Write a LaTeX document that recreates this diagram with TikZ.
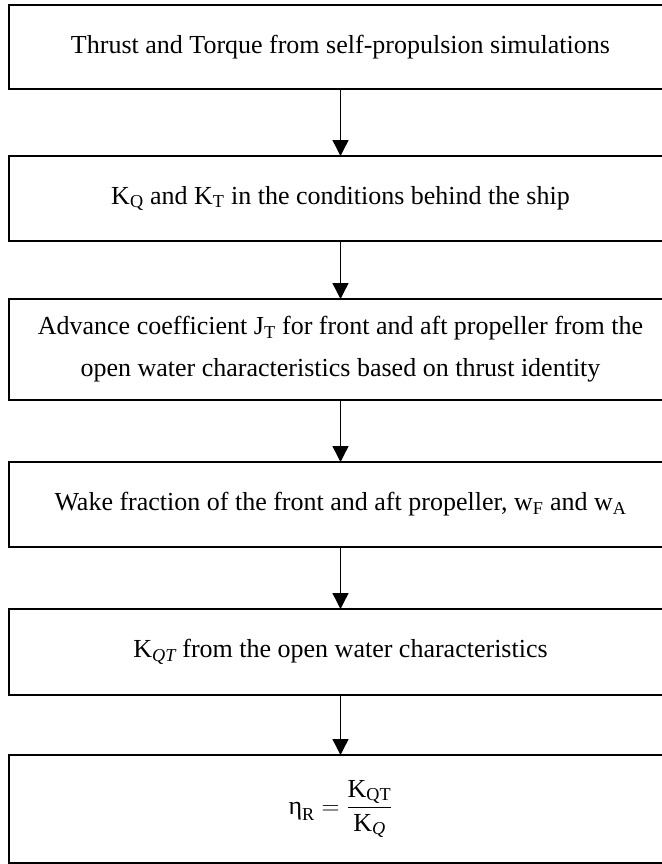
\documentclass[tikz,border=0pt]{standalone}
\usepackage{amsmath}
\usepackage{fontspec}
\setmainfont{Liberation Serif}
\usetikzlibrary{arrows.meta,positioning}

\begin{document}
\begin{tikzpicture}[
node distance=60pt,
every node/.style={font=\fontsize{26}{42}\selectfont},
box/.style={draw, line width=2.4pt, align=center, inner sep=4pt, outer sep=0pt, minimum width=663pt, minimum height=85pt},
arr/.style={-{Triangle[length=16pt,width=16pt]}, line width=1.4pt}
]
\useasboundingbox (0,0) rectangle (661pt,-864pt);
% steps of the flow chart
\node[box, minimum height=84pt] (S1) at (340.5pt,-47pt) {Thrust and Torque from self-propulsion simulations};
\node[box, below=67pt of S1] (S2) {K\textsubscript{Q} and K\textsubscript{T} in the conditions behind the ship};
\node[box, below=58pt of S2, minimum height=101pt] (S3) {Advance coefficient J\textsubscript{T} for front and aft propeller from the\\ open water characteristics based on thrust identity};
\node[box, below=62pt of S3] (S4) {Wake fraction of the front and aft propeller, w\textsubscript{F} and w\textsubscript{A}};
\node[box, below=62pt of S4, minimum height=86pt] (S5) {K\textsubscript{\itshape QT} from the open water characteristics};
\node[box, below=of S5, minimum height=108pt] (S6) {$\text{η}_{\text{R}} = \dfrac{\text{K}_{\text{QT}}}{\text{K}_{\textit{Q}}}$};
% connectors
\draw[arr] (S1) -- (S2); \draw[arr] (S2) -- (S3); \draw[arr] (S3) -- (S4);
\draw[arr] (S4) -- (S5); \draw[arr] (S5) -- (S6);
\end{tikzpicture}
\end{document}
